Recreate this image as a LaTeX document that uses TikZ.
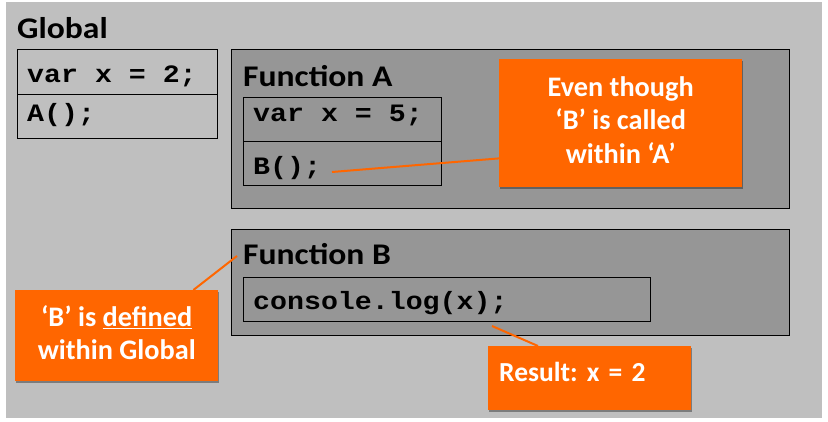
\documentclass[tikz,border=0pt]{standalone}
\usepackage{fontspec}
\setmainfont{Carlito}
\newfontfamily\titlefont[FakeStretch=1.12]{Carlito}
\newfontfamily\codefont[FakeStretch=1.13]{Liberation Mono}
\usetikzlibrary{shadows}
\definecolor{bggray}{RGB}{191,191,191}
\definecolor{fngray}{RGB}{150,150,150}
\definecolor{orng}{RGB}{255,102,0}
\frenchspacing
\tikzset{
  cell/.style={draw=black, line width=0.9pt, anchor=north west, inner sep=0pt},
  fnbox/.style={draw=black, line width=1.4pt, fill=fngray, anchor=north west, inner sep=0pt},
  code/.style={anchor=base west, inner sep=0pt, font=\codefont\bfseries\fontsize{25}{30}\selectfont},
  title/.style={anchor=base west, inner sep=0pt, font=\titlefont\bfseries\fontsize{30}{34}\selectfont},
  callout/.style={fill=orng, anchor=north west, inner sep=0pt, text=white,
    font=\bfseries\fontsize{28.3}{33.5}\selectfont, align=center,
    drop shadow={shadow xshift=1pt, shadow yshift=-1.5pt, opacity=0.35, fill=black}},
  link/.style={draw=orng, line width=2pt}
}
\begin{document}
\begin{tikzpicture}[x=1pt,y=-1pt]
\useasboundingbox (0,0) rectangle (828,422);
\fill[white] (0,0) rectangle (828,422);
\node[fill=bggray, anchor=north west, inner sep=0pt, minimum width=816pt, minimum height=416pt] (bg) at (6,2) {};

% Global
\node[title] (glob) at (17,39) {Global};
\node[cell, minimum width=200pt, minimum height=45pt] (g1) at (17,49) {};
\node[cell, minimum width=200pt, minimum height=44pt] (g2) at (17,94) {};
\node[code] (gv) at (27,83) {var x = 2;};
\node[code] (ga) at (27,122) {A();};

% Function A
\node[fnbox, minimum width=558pt, minimum height=159pt] (fa) at (231,49) {};
\node[title] (fat) at (243,87) {Function A};
\node[cell, minimum width=198pt, minimum height=44pt] (a1) at (243,97) {};
\node[cell, minimum width=198pt, minimum height=44pt] (a2) at (243,141) {};
\node[code] (av) at (253,122) {var x = 5;};
\node[code] (ab) at (253,175) {B();};

% Function B
\node[fnbox, minimum width=558pt, minimum height=106pt] (fb) at (231,229) {};
\node[title] (fbt) at (243,265) {Function B};
\node[cell, minimum width=407pt, minimum height=44pt] (b1) at (243,277) {};
\node[code] (bc) at (253,310) {console.log(x);};

% Callouts
\node[callout, minimum width=243pt, minimum height=128pt, text depth=7pt] (c1) at (499,59)
  {Even though\\‘B’ is called\\within ‘A’};
\node[callout, minimum width=203pt, minimum height=91pt, text depth=6pt] (c2) at (15,290)
  {‘B’ is \underline{defined}\\within Global};
\node[callout, minimum width=203pt, minimum height=64pt, text width=181pt, align=left,
  text height=19pt, text depth=13pt, font=\bfseries\fontsize{27.5}{33}\selectfont] (c3) at (488,346) {Result: x = 2};

% Connectors
\coordinate (pb) at (332,172);
\coordinate (pf) at (237,256);
\coordinate (pc) at (492,326);
\draw[link] (pb) -- ([yshift=29pt]c1.south west);
\draw[link] ([xshift=-25pt]c2.north east) -- (pf);
\draw[link] (pc) -- ([xshift=50pt]c3.north west);
\end{tikzpicture}
\end{document}
